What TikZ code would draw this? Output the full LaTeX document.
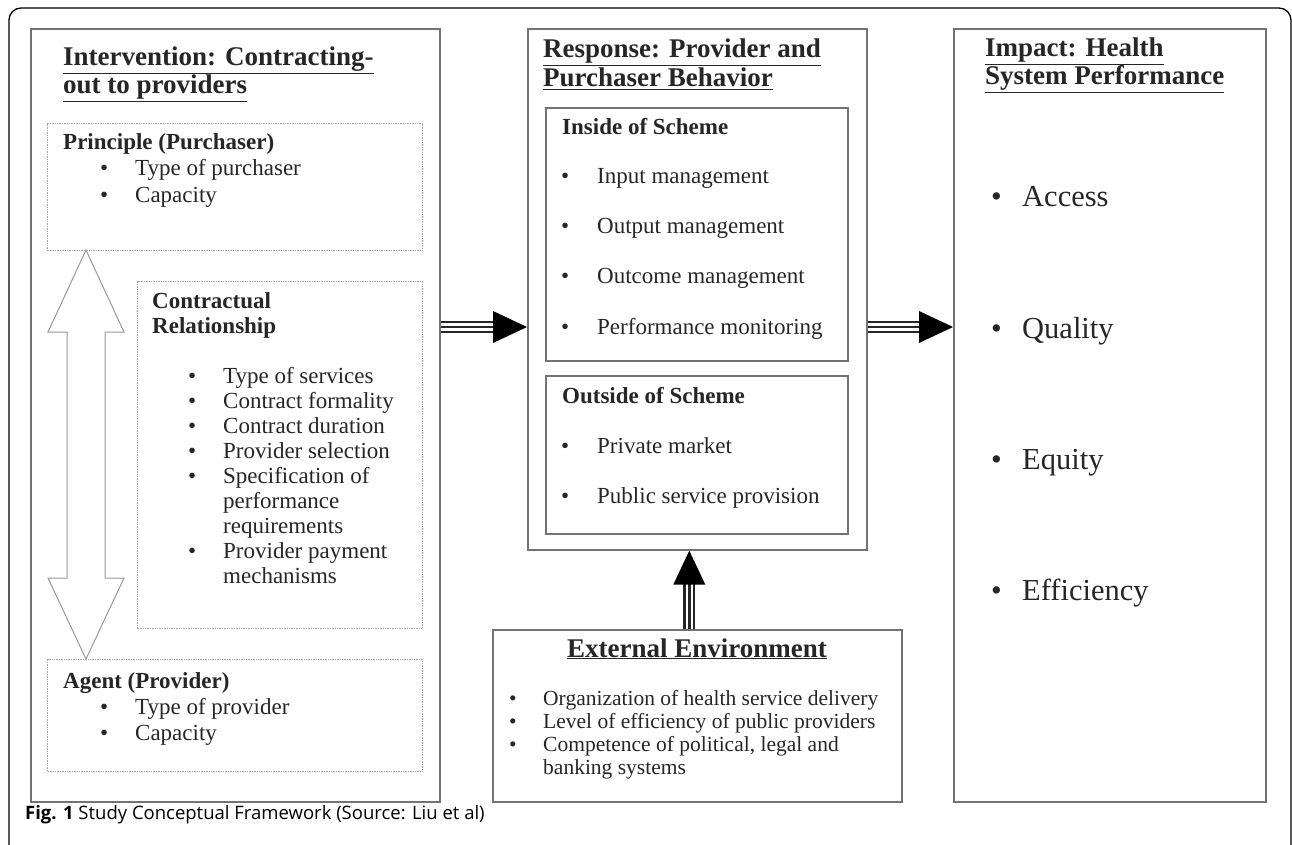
\documentclass[tikz,border=0pt]{standalone}
\usepackage{fontspec}
\setmainfont{Liberation Serif}
\newfontfamily\capfont{Open Sans}
\usetikzlibrary{calc}

\tikzset{
  frame/.style={draw=black!55, line width=1.6pt, inner sep=0pt, anchor=north west},
  dotbox/.style={draw=black!35, densely dotted, line width=1.4pt, inner sep=0pt, anchor=north west},
  txt/.style={anchor=base west, inner sep=0pt, text=black!85},
}
\newcommand{\bul}[1]{\makebox[#1][l]{\textbullet}}
\newcommand{\head}[1]{\textbf{\underline{#1}}}
\newcommand{\li}[1]{\hbox{#1}}
% three-line arrow with a solid head
\def\triarrow(#1)(#2){%
  \draw[line width=12pt, black!85] (#1) -- ($(#2)!33pt!(#1)$);
  \draw[line width=7.5pt, white] (#1) -- ($(#2)!33pt!(#1)$);
  \draw[line width=2.5pt, black!85] (#1) -- ($(#2)!33pt!(#1)$);
  \fill[black] (#2) -- ($(#2)!34pt!(#1)!16pt!90:(#2)$) -- ($(#2)!34pt!(#1)!16pt!-90:(#2)$) -- cycle;
}

\begin{document}
\begin{tikzpicture}[x=1pt, y=-1pt]
  \useasboundingbox (0,0) rectangle (1292,845);

  %%%%% frame %%%%%
  \draw[line width=1.3pt, rounded corners=12pt] (9,880) -- (9,8) -- (1291,8) -- (1291,880);

  %%%%% intervention %%%%%
  \node[frame, minimum width=409pt, minimum height=773pt] (interv) at (30,28) {};
  \node[dotbox, minimum width=375pt, minimum height=127pt] (purch) at (47,123) {};
  \node[dotbox, minimum width=285pt, minimum height=347pt] (contr) at (137,281) {};
  \node[dotbox, minimum width=375pt, minimum height=112pt] (agent) at (47,659) {};

  \draw[black!40, line width=1pt, fill=white] (86,250) -- (124,332) -- (105,332) -- (105,578) -- (124,578)
    -- (86,659) -- (48,578) -- (67,578) -- (67,332) -- (48,332) -- cycle;

  \node[txt, font=\fontsize{27}{28}\selectfont] (intervT) at (63,66)
    {\vtop{\li{\head{Intervention: Contracting-}}\li{\head{out to providers}}}};
  \node[txt, font=\fontsize{23}{26}\selectfont] (purchT) at (63,150)
    {\vtop{\li{\textbf{Principle (Purchaser)}}
     \li{\hspace*{37pt}\bul{35pt}Type of purchaser}
     \li{\hspace*{37pt}\bul{35pt}Capacity}}};
  \node[txt, font=\fontsize{23}{25.1}\selectfont] (contrT) at (152,308)
    {\vtop{\li{\textbf{Contractual}}\li{\textbf{Relationship}}}};
  \node[txt, font=\fontsize{23}{25.1}\selectfont] (contrL) at (188,383)
    {\vtop{\li{\bul{35pt}Type of services}
     \li{\bul{35pt}Contract formality}
     \li{\bul{35pt}Contract duration}
     \li{\bul{35pt}Provider selection}
     \li{\bul{35pt}Specification of}
     \li{\hspace*{35pt}performance}
     \li{\hspace*{35pt}requirements}
     \li{\bul{35pt}Provider payment}
     \li{\hspace*{35pt}mechanisms}}};
  \node[txt, font=\fontsize{23}{26}\selectfont] (agentT) at (63,688)
    {\vtop{\li{\textbf{Agent (Provider)}}
     \li{\hspace*{37pt}\bul{35pt}Type of provider}
     \li{\hspace*{37pt}\bul{35pt}Capacity}}};

  %%%%% response %%%%%
  \node[frame, minimum width=339pt, minimum height=521pt] (resp) at (527,28) {};
  \node[frame, minimum width=302pt, minimum height=253pt] (inside) at (545,107) {};
  \node[frame, minimum width=302pt, minimum height=158pt] (outside) at (545,375) {};

  \node[txt, font=\fontsize{27}{29}\selectfont] (respT) at (543,58)
    {\vtop{\li{\head{Response: Provider and}}\li{\head{Purchaser Behavior}}}};
  \node[txt, font=\fontsize{23}{50}\selectfont] (insideT) at (562,135)
    {\textbf{Inside of Scheme}};
  \node[txt, font=\fontsize{23}{50}\selectfont] (insideL) at (561,184)
    {\vtop{\li{\bul{36pt}Input management}
     \li{\bul{36pt}Output management}
     \li{\bul{36pt}Outcome management}
     \li{\bul{36pt}Performance monitoring}}};
  \node[txt, font=\fontsize{23}{50}\selectfont] (outsideT) at (562,403)
    {\textbf{Outside of Scheme}};
  \node[txt, font=\fontsize{23}{50}\selectfont] (outsideL) at (561,453)
    {\vtop{\li{\bul{36pt}Private market}
     \li{\bul{36pt}Public service provision}}};

  %%%%% impact %%%%%
  \node[frame, minimum width=312pt, minimum height=773pt] (impact) at (953,28) {};
  \node[txt, font=\fontsize{27}{28}\selectfont] (impactT) at (985,57)
    {\vtop{\li{\head{Impact: Health}}\li{\head{System Performance}}}};
  \node[txt, font=\fontsize{30.5}{131}\selectfont] (impactL) at (991,207)
    {\vtop{\li{\bul{31pt}Access}
     \li{\bul{31pt}Quality}
     \li{\bul{31pt}Equity}
     \li{\bul{31pt}Efficiency}}};

  %%%%% external environment %%%%%
  \node[frame, minimum width=409pt, minimum height=172pt] (extenv) at (492,629) {};
  \node[anchor=base, inner sep=0pt, text=black!85, font=\fontsize{27}{28}\selectfont] (extenvT) at (697,657)
    {\head{External Environment}};
  \node[txt, font=\fontsize{21.5}{23.3}\selectfont] (extenvL) at (509,705)
    {\vtop{\li{\bul{34pt}Organization of health service delivery}
     \li{\bul{34pt}Level of efficiency of public providers}
     \li{\bul{34pt}Competence of political, legal and}
     \li{\hspace*{34pt}banking systems}}};

  %%%%% arrows %%%%%
  \coordinate (lvl) at (0,327);
  \triarrow(interv.east |- lvl)(resp.west |- lvl)
  \triarrow(resp.east |- lvl)(impact.west |- lvl)
  \triarrow([xshift=-8pt]extenv.north)([xshift=-8pt]resp.south)

  %%%%% caption %%%%%
  \node[anchor=base west, inner sep=0pt, font=\capfont\fontsize{18.5}{20}\selectfont] (cap) at (25,819)
    {\textbf{Fig. 1} Study Conceptual Framework (Source: Liu et al)};
\end{tikzpicture}
\end{document}
